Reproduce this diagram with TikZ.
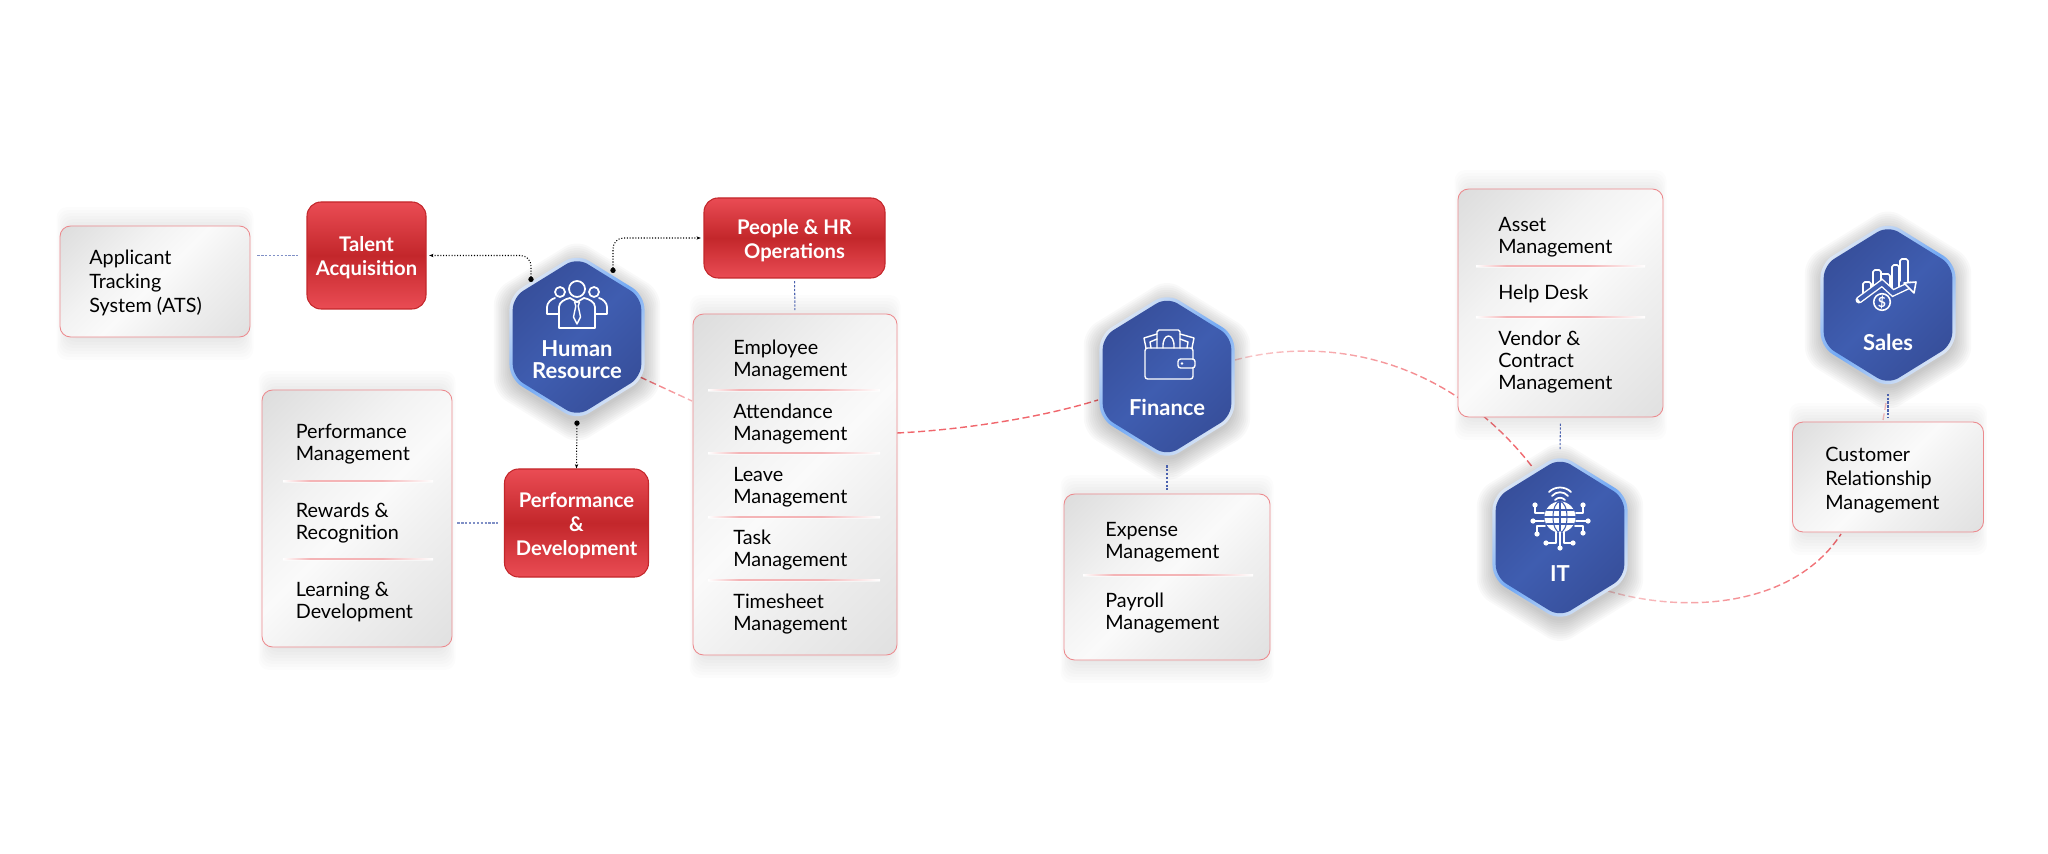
\documentclass[tikz,border=0pt]{standalone}
\usepackage{fontspec}
\setmainfont{Lato}
\usetikzlibrary{calc,arrows.meta,shapes.geometric,fadings}

\definecolor{hexblue}{HTML}{3F5DB0}
\definecolor{hexdark}{HTML}{374F9B}
\definecolor{rimblue}{HTML}{72A9F5}
\definecolor{rimpale}{HTML}{DCE6F5}
\definecolor{boxred}{HTML}{C3272B}
\definecolor{boxlight}{HTML}{EA4C54}
\definecolor{edgepink}{HTML}{EC8A8E}
\definecolor{sepink}{HTML}{F4B4B6}
\definecolor{curvered}{HTML}{F0666C}
\definecolor{dotblue}{HTML}{4A61AE}
\definecolor{silver}{HTML}{DCDCDC}
\definecolor{silverlow}{HTML}{E0E0E0}
\definecolor{shine}{HTML}{FAFAFA}

\tikzfading[name=fadestart, left color=transparent!65, right color=transparent!0]
\tikzfading[name=fadeend, left color=transparent!0, right color=transparent!55]

\pgfdeclareverticalshading{boxshine}{100bp}{color(0bp)=(silverlow); color(14bp)=(silverlow);
  color(38bp)=(shine!96!black); color(50bp)=(shine); color(62bp)=(shine!97!black); color(86bp)=(silver); color(100bp)=(silver)}
\pgfdeclarehorizontalshading{seprule}{100bp}{color(0bp)=(white); color(25bp)=(white);
  color(34bp)=(sepink); color(58bp)=(sepink); color(75bp)=(white); color(100bp)=(white)}

\begin{document}
\begin{tikzpicture}[
  x=0.02cm, y=-0.02cm,
  >=Stealth,
  hexshade/.style={regular polygon, regular polygon sides=6, shape border rotate=30, inner sep=0pt, outer sep=0pt,
    xscale=0.934, rounded corners=8pt, fill=black, opacity=0.022},
  hexrim/.style={regular polygon, regular polygon sides=6, shape border rotate=30, inner sep=0pt, outer sep=0pt,
    minimum size=3.34cm, xscale=0.934, rounded corners=8pt,
    top color=rimpale, bottom color=rimpale, middle color=rimblue, shading angle=45},
  hexcore/.style={regular polygon, regular polygon sides=6, shape border rotate=30, inner sep=0pt, outer sep=0pt,
    minimum size=3.18cm, xscale=0.934, rounded corners=7pt,
    top color=hexdark, bottom color=hexdark, middle color=hexblue, shading angle=45},
  hexlabel/.style={text=white, font=\bfseries\fontsize{12.5}{12.5}\selectfont, align=center, inner sep=0pt},
  infobox/.style={rounded corners=6pt, draw=edgepink, line width=0.5pt,
    shade, shading=boxshine, shading angle=45},
  redbox/.style={rounded corners=8pt, draw=boxred, line width=0.6pt,
    top color=boxlight, bottom color=boxlight, middle color=boxred},
  redlabel/.style={text=white, font=\bfseries\fontsize{11.5}{13.65}\selectfont, align=center, inner sep=0pt},
  itemtext/.style={anchor=west, align=left, inner sep=0pt, text=black, font=\fontsize{11.25}{12.5}\selectfont},
  widetext/.style={itemtext, font=\fontsize{11.25}{13.65}\selectfont},
  dotlink/.style={densely dotted, line width=0.6pt, rounded corners=6pt, shorten <=1.5pt, {Stealth[length=2.5pt]}-{Circle[length=3pt]}},
  bluelink/.style={dotblue, line width=0.6pt, dash pattern=on 1.3pt off 0.9pt},
  curvelink/.style={curvered, line width=0.8pt, dash pattern=on 4pt off 2pt},
  iconline/.style={white, line width=1pt, line join=round, line cap=round}
]
\useasboundingbox (0,0) rectangle (2048,854);

% --- Box helper: name, centre x, centre y, width, height ---
\newcommand{\InfoBox}[5]{%
  \foreach \g in {0,...,7} {
    \node[rounded corners=6pt, fill=black, opacity=0.012,
      minimum width={(#4-14+\g*3)*0.02cm}, minimum height={(#5+\g*6)*0.02cm}] (#1s\g) at (#2,#3+2) {};
  }
  \node[infobox, minimum width=#4*0.02cm, minimum height=#5*0.02cm] (#1) at (#2,#3) {};
}

% --- Hexagon helper: name, centre x, centre y ---
\newcommand{\HexNode}[3]{%
  \foreach \g in {0,...,9} {
    \node[hexshade, minimum size={(165+\g*4.5)*0.02cm}] (#1s\g) at (#2,#3+5) {};
  }
  \node[hexrim] (#1) at (#2,#3) {};
  \node[hexcore] (#1i) at (#2,#3) {};
}

% --- Separator inside a box: x from, x to, y ---
\newcommand{\SepLine}[3]{%
  \fill[white, opacity=0.5] (#1,#3) rectangle (#2,#3+2.2);
  \shade[shading=seprule] (#1,#3-0.8) rectangle (#2,#3+0.8);
}

% --- Free ends on the hexagon and box edges ---
\coordinate (hrtalent) at (531,282);
\coordinate (hrpeople) at (613,273);
\coordinate (hrlink) at (640,377);
\coordinate (emplink) at (692,401);
\coordinate (empout) at (897,433);
\coordinate (finin) at (1098,400);
\coordinate (finout) at (1235,360);
\coordinate (itin) at (1533,468);
\coordinate (itout) at (1608,591);
\coordinate (crmin) at (1841,534);
\coordinate (salesout) at (1886,403);
\coordinate (crmtop) at (1883,420);

% --- Curved links, under everything else ---
\draw[curvelink, path fading=fadeend] (hrlink) -- (emplink);
\draw[curvelink] (empout) .. controls (960,430) and (1040,418) .. (finin);
\draw[curvelink, path fading=fadestart] (finout) .. controls (1330,335) and (1450,360) .. (itin);
\draw[curvelink, path fading=fadestart] (itout) .. controls (1690,615) and (1795,605) .. (crmin);
\draw[curvelink, opacity=0.4] (salesout) -- (crmtop);

% --- Hexagons ---
\HexNode{hr}{577}{337}
\HexNode{fin}{1167}{376.5}
\HexNode{it}{1560}{537.5}
\HexNode{sales}{1888}{305}

\node[hexlabel] (hrtext) at (577,360) {Human\\Resource};
\node[hexlabel] (fintext) at (1167,407) {Finance};
\node[hexlabel] (ittext) at (1560,574) {IT};
\node[hexlabel] (salestext) at (1888,342) {Sales};

% --- Boxes ---
\InfoBox{ats}{155}{281.5}{190}{111}
\InfoBox{skills}{357}{518.5}{190}{257}
\InfoBox{emp}{795}{484.5}{204}{341}
\InfoBox{exp}{1167}{577}{206}{166}
\InfoBox{asset}{1560.5}{303}{205}{228}
\InfoBox{crm}{1888}{477}{191}{110}

\node[redbox, minimum width=119*0.02cm, minimum height=107*0.02cm] (talent) at (366.5,255.5) {};
\node[redbox, minimum width=181*0.02cm, minimum height=80*0.02cm] (people) at (794.5,238) {};
\node[redbox, minimum width=144*0.02cm, minimum height=108*0.02cm] (perf) at (576.5,523) {};
\node[redlabel] (talenttext) at (366.5,258) {Talent\\Acquisition};
\node[redlabel] (peopletext) at (794.5,240.5) {People \& HR\\Operations};
\node[redlabel] (perftext) at (576.5,525.5) {Performance\\\&\\Development};

% --- Box texts ---
\node[widetext] (atstext) at (89,282.5) {Applicant\\Tracking\\System (ATS)};
\node[itemtext] (skills1) at (295.5,444) {Performance\\Management};
\node[itemtext] (skills2) at (295.5,523.5) {Rewards \&\\Recognition};
\node[itemtext] (skills3) at (295.5,602) {Learning \&\\Development};
\SepLine{283}{433}{481}
\SepLine{283}{433}{559}

\node[itemtext] (emp1) at (733,360.5) {Employee\\Management};
\node[itemtext] (emp2) at (733,424.5) {Attendance\\Management};
\node[itemtext] (emp3) at (733,487.5) {Leave\\Management};
\node[itemtext] (emp4) at (733,550.5) {Task\\Management};
\node[itemtext] (emp5) at (733,614.5) {Timesheet\\Management};
\SepLine{708}{880}{390}
\SepLine{708}{880}{453}
\SepLine{708}{880}{517}
\SepLine{708}{880}{580}

\node[itemtext] (exp1) at (1105,542.5) {Expense\\Management};
\node[itemtext] (exp2) at (1105,613.5) {Payroll\\Management};
\SepLine{1083}{1253}{575}

\node[itemtext] (asset1) at (1498,237.5) {Asset\\Management};
\node[itemtext] (asset2) at (1498,293.5) {Help Desk};
\node[itemtext] (asset3) at (1498,362) {Vendor \&\\Contract\\Management};
\SepLine{1476}{1645}{266}
\SepLine{1476}{1645}{317}

\node[widetext] (crmtext) at (1825,480.5) {Customer\\Relationship\\Management};

% --- Dotted links ---
\draw[bluelink, opacity=0.7] (ats.east |- talent.west) ++(7,0) -- ($(talent.west)+(-7,0)$);
\draw[bluelink, opacity=0.7] (skills.east |- perf.west) ++(5,0) -- ($(perf.west)+(-5,0)$);
\draw[bluelink, shorten <=1.5pt, shorten >=2pt] (people.south) -- (emp.north);
\draw[bluelink, shorten <=3pt, shorten >=2pt] (fin.south) -- (exp.north);
\draw[bluelink, shorten <=3.5pt, shorten >=2pt] (asset.south) -- (it.north);
\draw[bluelink, shorten <=3pt, shorten >=2pt] (sales.south) -- (crm.north);

\draw[dotlink] (talent.east) -- (hrtalent |- talent.east) -- (hrtalent);
\draw[dotlink] (people.west) -- (hrpeople |- people.west) -- (hrpeople);
\draw[densely dotted, line width=0.6pt, {Stealth[length=2.5pt]}-{Circle[length=3pt]}] (perf.north) -- (hr.south);

% --- Icon: people ---
\begin{scope}[shift={(577,305)}, iconline]
  \draw (0,-16) circle (8);
  \draw (-17,-13) circle (5);
  \draw (17,-13) circle (5);
  \draw (-18,23) -- (18,23) -- (18,2) .. controls (18,-3) and (12,-6) .. (7,-7) -- (0,-3) -- (-7,-7)
    .. controls (-12,-6) and (-18,-3) .. (-18,2) -- cycle;
  \draw (-18,9) -- (-30,9) -- (-30,2) .. controls (-30,-2) and (-26,-6) .. (-22,-7);
  \draw (18,9) -- (30,9) -- (30,2) .. controls (30,-2) and (26,-6) .. (22,-7);
  \draw[line width=0.8pt] (-2.5,-3) -- (2.5,-3) -- (1.2,1) -- (3.5,12) -- (0,19) -- (-3.5,12) -- (-1.2,1) -- cycle;
\end{scope}

% --- Icon: wallet ---
\begin{scope}[shift={(1169,355)}, iconline, line width=0.8pt]
  \draw[rounded corners=1.5pt] (-24,-7) rectangle (24,24);
  \draw[rounded corners=1.5pt, fill=hexblue] (9,4) rectangle (26,13);
  \fill[white] (13,8.5) circle (1.3);
  \draw[rounded corners=1pt] (-12,-7) -- (-12,-25) -- (11,-25) -- (11,-7);
  \draw (-6,-7) .. controls (-7,-23) and (6,-23) .. (5,-7);
  \draw (-23,-7) -- (-25,-17) -- (-12,-21);
  \draw (-18,-7) -- (-19,-13) -- (-12,-16);
  \draw (23,-7) -- (25,-17) -- (11,-21);
  \draw (18,-7) -- (19,-13) -- (11,-16);
\end{scope}

% --- Icon: globe ---
\begin{scope}[shift={(1560,515)}, iconline]
  \fill[white] (0,2) circle (15.5);
  \draw[hexblue, line width=0.6pt] (0,-13.5) -- (0,17.5);
  \draw[hexblue, line width=0.6pt] (0,2) ellipse (7 and 15.5);
  \draw[hexblue, line width=0.6pt] (-15.5,2) -- (15.5,2);
  \draw[hexblue, line width=0.6pt] (-13.5,-5) -- (13.5,-5);
  \draw[hexblue, line width=0.6pt] (-13.5,9) -- (13.5,9);
  \draw (-5,-15) .. controls (-2,-18) and (2,-18) .. (5,-15);
  \draw (-8,-19) .. controls (-4,-24) and (4,-24) .. (8,-19);
  \draw (-11,-23) .. controls (-5,-29) and (5,-29) .. (11,-23);
  \foreach \px/\py in {-25/-10,-27/6,-23/19,-14/28,0/33,13/28,23/18,28/6,23/-10} {
    \fill[white] (\px,\py) circle (2.6);
  }
  \draw (-25,-10) -- (-25,-2) -- (-16,-2);
  \draw (-27,6) -- (-16,6);
  \draw (-23,19) -- (-23,11) -- (-15,11);
  \draw (-14,28) -- (-4,28) -- (-4,17);
  \draw (0,33) -- (0,17);
  \draw (13,28) -- (4,28) -- (4,17);
  \draw (23,18) -- (23,11) -- (15,11);
  \draw (28,6) -- (16,6);
  \draw (23,-10) -- (23,-2) -- (16,-2);
\end{scope}

% --- Icon: sales chart ---
\begin{scope}[shift={(1890,290)}, iconline, line width=0.9pt]
  \draw[rounded corners=1pt] (-27,7) -- (-27,-8) -- (-19,-8) -- (-19,0);
  \draw[rounded corners=1pt] (-17,-2) -- (-17,-20) -- (-9,-20) -- (-9,-6);
  \draw[rounded corners=1pt] (-9,-16) -- (0,-16) -- (0,0);
  \draw[rounded corners=1pt] (2,2) -- (2,-25) -- (9,-25) -- (9,-2);
  \draw[rounded corners=1pt] (10,-9) -- (10,-31) -- (18,-31) -- (18,-7);
  \draw[line width=4pt, line join=miter, line cap=round] (-31,10) -- (-8,-7) -- (3,3) -- (20,-5);
  \draw[hexblue, line width=2.4pt, line cap=butt, line join=miter] (-31,10) -- (-8,-7) -- (3,3) -- (20,-5);
  \draw[fill=hexblue] (26,-8) -- (14,-7) -- (24,3) -- cycle;
  \draw[fill=hexblue] (-8,12) circle (8.3);
  \node[text=white, inner sep=0pt, font=\bfseries\fontsize{8}{8}\selectfont] (dollar) at (-8,12) {\$};
\end{scope}

\end{tikzpicture}
\end{document}
